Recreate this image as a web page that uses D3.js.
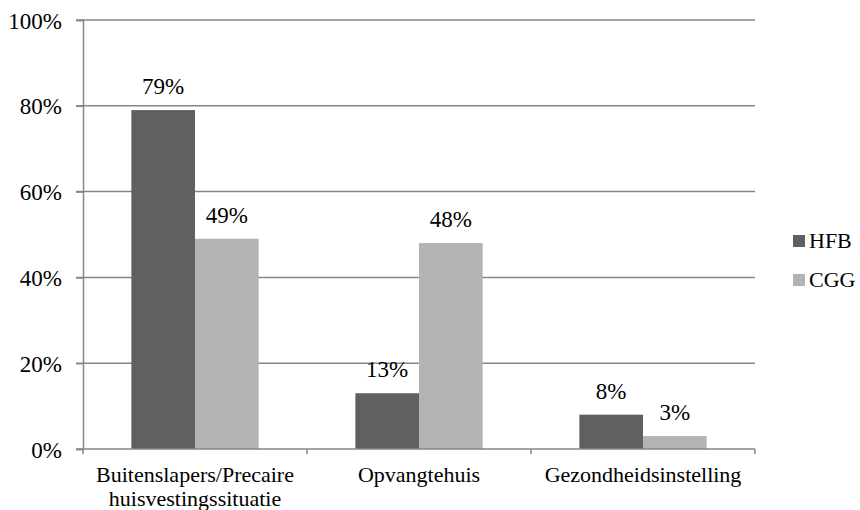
<!DOCTYPE html>
<html>
<head>
<meta charset="utf-8">
<script src="https://cdn.jsdelivr.net/npm/d3@7"></script>
</head>
<body style="margin:0;background:#fff">
<svg id="chart" width="860" height="510" style="display:block"></svg>
<script>
const categories = [["Buitenslapers/Precaire", "huisvestingssituatie"], ["Opvangtehuis"], ["Gezondheidsinstelling"]];
const series = ["HFB", "CGG"];
const hfbValues = [79, 13, 8];
const cggValues = [49, 48, 3];
const yTicks = [0, 20, 40, 60, 80, 100];
const colors = ["#606060", "#b3b3b3"];

const FONT = "Liberation Serif";
const svg = d3.select("#chart");
const margin = { left: 83, right: 105, top: 20, bottom: 61 };
const W = 860, H = 510;
const x0 = d3.scaleBand().domain(d3.range(categories.length)).range([margin.left, W - margin.right]).paddingInner(0).paddingOuter(0);
const x1 = d3.scaleBand().domain(series).range([0, x0.bandwidth()]).paddingInner(0).paddingOuter(0.76);
const y = d3.scaleLinear().domain([0, 100]).range([H - margin.bottom, margin.top]);

const gridColor = "#868686";

// gridlines
svg.append("g")
  .selectAll("line").data(yTicks.filter(d => d > 0)).join("line")
  .attr("x1", margin.left - 7).attr("x2", W - margin.right)
  .attr("y1", d => y(d)).attr("y2", d => y(d))
  .attr("stroke", gridColor).attr("stroke-width", 1.5);

// y axis
const yAxis = svg.append("g").attr("transform", `translate(${margin.left},0)`)
  .call(d3.axisLeft(y).tickValues(yTicks).tickSize(7).tickPadding(14).tickFormat(d => d + "%"));
yAxis.attr("font-family", null).attr("font-size", null);
yAxis.select(".domain").attr("stroke", gridColor).attr("stroke-width", 1.5);
yAxis.selectAll(".tick line").attr("stroke", gridColor).attr("stroke-width", 1.5);
yAxis.selectAll(".tick text")
  .attr("font-size", 23).attr("font-family", FONT).style("font-family", FONT)
  .attr("fill", "#000").attr("dy", "0.35em");

// bars
const data = categories.map((c, i) => ({ i, vals: [hfbValues[i], cggValues[i]] }));
const groups = svg.append("g").selectAll("g").data(data).join("g")
  .attr("transform", d => `translate(${x0(d.i)},0)`);
groups.selectAll("rect").data(d => d.vals.map((v, k) => ({ v, k }))).join("rect")
  .attr("x", d => x1(series[d.k]))
  .attr("width", x1.bandwidth())
  .attr("y", d => y(d.v))
  .attr("height", d => y(0) - y(d.v))
  .attr("fill", d => colors[d.k]);
groups.selectAll("text.lbl").data(d => d.vals.map((v, k) => ({ v, k }))).join("text")
  .attr("class", "lbl")
  .attr("x", d => x1(series[d.k]) + x1.bandwidth() / 2)
  .attr("y", d => y(d.v) - 16)
  .attr("text-anchor", "middle")
  .attr("font-family", FONT).style("font-family", FONT)
  .attr("font-size", 23)
  .text(d => d.v + "%");

// x axis
const xAxisG = svg.append("g").attr("transform", `translate(0,${y(0)})`);
xAxisG.append("line").attr("x1", margin.left - 7).attr("x2", W - margin.right)
  .attr("stroke", gridColor).attr("stroke-width", 1.5);
const tickPos = d3.range(categories.length + 1).map(i => margin.left + i * x0.bandwidth());
xAxisG.selectAll("line.t").data(tickPos).join("line").attr("class", "t")
  .attr("x1", d => d).attr("x2", d => d).attr("y1", 0).attr("y2", 5)
  .attr("stroke", gridColor).attr("stroke-width", 1.5);
const catLabels = xAxisG.selectAll("text").data(categories).join("text")
  .attr("text-anchor", "middle")
  .attr("font-family", FONT).style("font-family", FONT)
  .attr("font-size", 22)
  .attr("transform", (d, i) => `translate(${x0(i) + x0.bandwidth() / 2},33)`);
catLabels.selectAll("tspan").data(d => d).join("tspan")
  .attr("x", 0).attr("dy", (d, k) => k === 0 ? 0 : 24).text(d => d);

// legend
const legend = svg.append("g");
series.forEach((s, k) => {
  const ly = 241 + k * 39;
  legend.append("rect").attr("x", 793).attr("y", ly - 6).attr("width", 12).attr("height", 12).attr("fill", colors[k]);
  legend.append("text").attr("x", 809).attr("y", ly + 7)
    .attr("font-family", FONT).style("font-family", FONT)
    .attr("font-size", 22).text(s);
});
</script>
</body>
</html>
